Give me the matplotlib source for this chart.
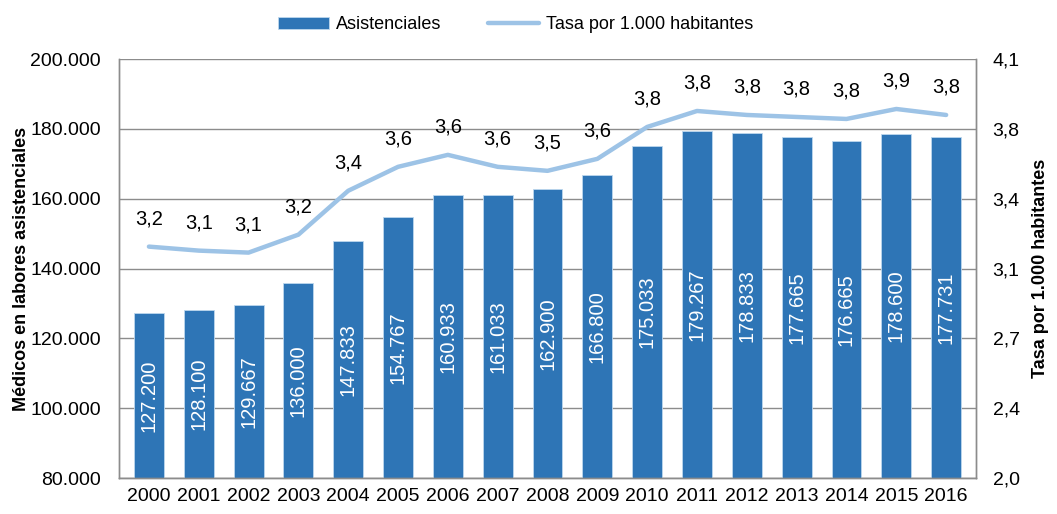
import numpy as np
import matplotlib.pyplot as plt
from matplotlib.ticker import FuncFormatter

plt.rcParams['font.family'] = ['Liberation Sans', 'DejaVu Sans']

years = ['2000', '2001', '2002', '2003', '2004', '2005', '2006', '2007', '2008',
         '2009', '2010', '2011', '2012', '2013', '2014', '2015', '2016']
medicos = [127200, 128100, 129667, 136000, 147833, 154767, 160933, 161033, 162900,
           166800, 175033, 179267, 178833, 177665, 176665, 178600, 177731]
tasa = [3.16, 3.14, 3.13, 3.22, 3.44, 3.56, 3.62, 3.56, 3.54,
        3.60, 3.76, 3.84, 3.82, 3.81, 3.80, 3.85, 3.82]
tasa_labels = ['3,2', '3,1', '3,1', '3,2', '3,4', '3,6', '3,6', '3,6', '3,5',
               '3,6', '3,8', '3,8', '3,8', '3,8', '3,8', '3,9', '3,8']
right_ticks = [2.0, 2.35, 2.7, 3.05, 3.4, 3.75, 4.1]
right_tick_labels = ['2,0', '2,4', '2,7', '3,1', '3,4', '3,8', '4,1']

bar_color = '#2E75B6'
line_color = '#9DC3E6'
grid_color = '#8C8C8C'

fig = plt.figure(figsize=(10.57, 5.14), dpi=100)
ax = fig.add_axes([0.1126, 0.070, 0.8108, 0.815])
ax2 = ax.twinx()

x = np.arange(len(years))
bars = ax.bar(x, medicos, width=0.6, color=bar_color, edgecolor='#BDD7EE',
              linewidth=0.6, zorder=2, label='Asistenciales')
ax.set_ylim(80000, 200000)
ax.set_yticks(np.arange(80000, 200001, 20000))
ax.yaxis.set_major_formatter(FuncFormatter(lambda v, p: f'{int(v):,}'.replace(',', '.')))
ax.set_xlim(-0.6, len(years) - 0.4)
ax.set_xticks(x)
ax.set_xticklabels(years)
ax.grid(axis='y', color=grid_color, linewidth=1.0, zorder=0)
ax.set_axisbelow(True)

for xi, v in zip(x, medicos):
    ax.text(xi, (v + 80000) / 2, f'{v:,}'.replace(',', '.'), rotation=90,
            ha='center', va='center', color='white', fontsize=14.5, zorder=3)

line, = ax2.plot(x, tasa, color=line_color, linewidth=3.2, zorder=4,
                 label='Tasa por 1.000 habitantes', solid_capstyle='round')
ax2.set_ylim(2.0, 4.1)
ax2.set_yticks(right_ticks)
ax2.set_yticklabels(right_tick_labels)
for xi, v, lab in zip(x, tasa, tasa_labels):
    ax2.annotate(lab, (xi, v), xytext=(0, 20), textcoords='offset points',
                 ha='center', va='center', fontsize=14.5)

for a in (ax, ax2):
    for s in a.spines.values():
        s.set_color(grid_color)
        s.set_linewidth(1.0)
    a.spines['top'].set_visible(False)
    a.tick_params(axis='both', length=0, labelsize=14)
ax.tick_params(axis='y', pad=13)
ax.tick_params(axis='x', pad=7)
ax2.tick_params(axis='y', pad=12)

ax.set_ylabel('Médicos en labores asistenciales', fontsize=13, fontweight='bold', labelpad=0)
ax2.set_ylabel('Tasa por 1.000 habitantes', fontsize=13, fontweight='bold', labelpad=9)

fig.legend(handles=[bars, line], labels=['Asistenciales', 'Tasa por 1.000 habitantes'],
           loc='upper center', bbox_to_anchor=(0.488, 1.0), ncol=2, frameon=False,
           fontsize=13, handlelength=2.8, columnspacing=2.6, handletextpad=0.4)

fig.savefig('out.png', dpi=100)
